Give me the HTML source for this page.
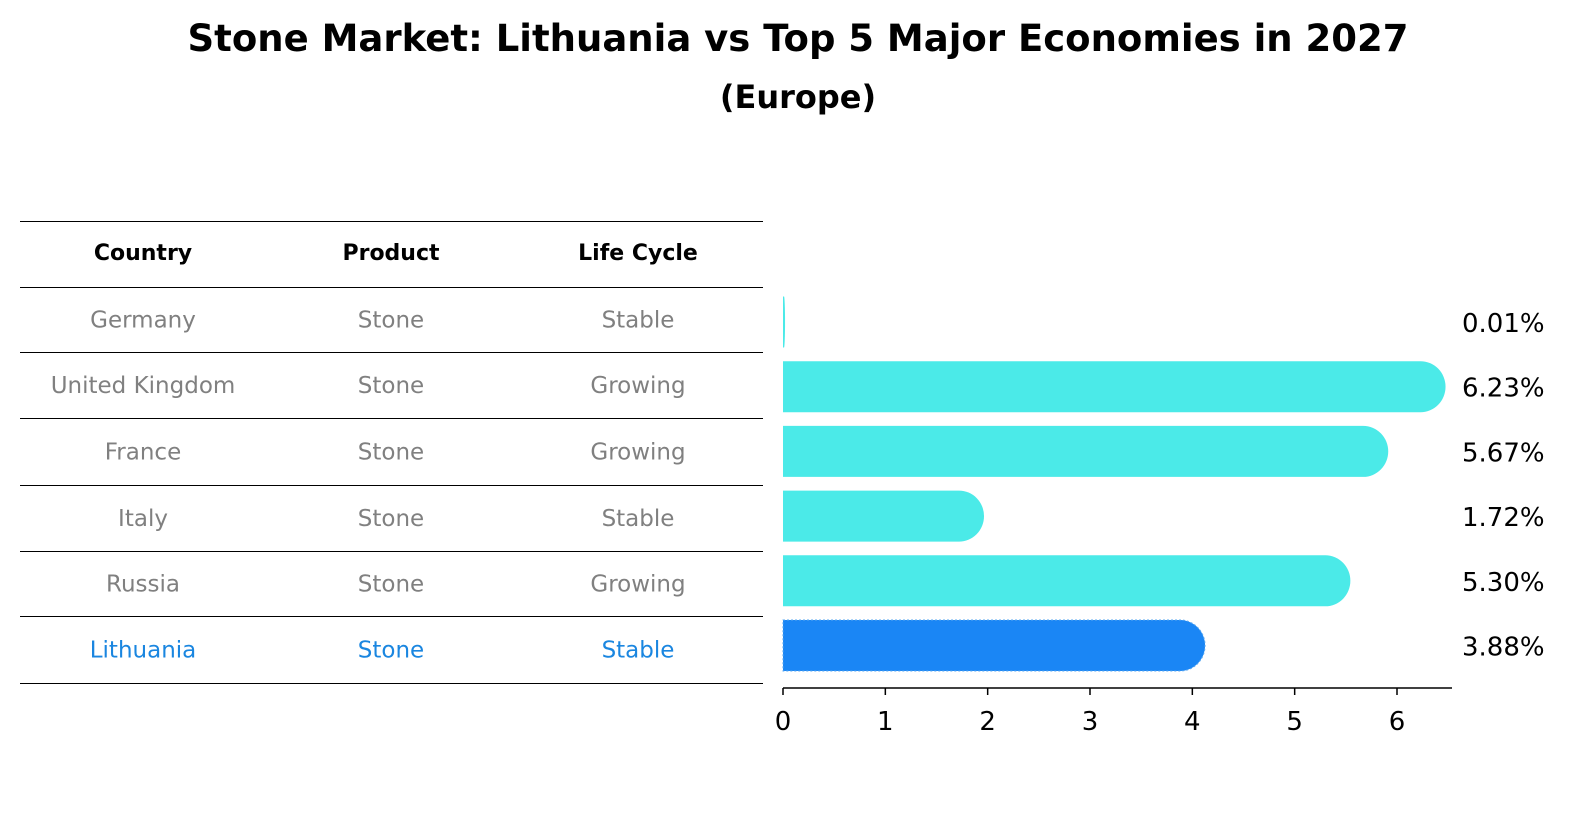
<!DOCTYPE html>
<html><head><meta charset="utf-8"><style>
html,body{margin:0;padding:0;background:#fff;overflow:hidden;width:1586px;height:823px;}
svg{display:block;}
svg text{font-family:"DejaVu Sans","Liberation Sans",sans-serif;}
</style></head><body>
<svg id="c" width="1586" height="823" viewBox="0 0 1586 823">
<text x="798" y="51" text-anchor="middle" font-size="37" font-weight="bold">Stone Market: Lithuania vs Top 5 Major Economies in 2027</text>
<text x="798" y="108" text-anchor="middle" font-size="32" font-weight="bold">(Europe)</text>
<g id="table"></g>
<g id="bars"></g>
</svg>
<script>
const countries=["Germany","United Kingdom","France","Italy","Russia","Lithuania"];
const products=["Stone","Stone","Stone","Stone","Stone","Stone"];
const lifeCycles=["Stable","Growing","Growing","Stable","Growing","Stable"];
const values=[0.01,6.23,5.67,1.72,5.30,3.88];
const valueLabels=["0.01%","6.23%","5.67%","1.72%","5.30%","3.88%"];
const ticks=[0,1,2,3,4,5,6];
const NS="http://www.w3.org/2000/svg";
function mk(t,a,p,txt){const e=document.createElementNS(NS,t);for(const k in a)e.setAttribute(k,a[k]);if(txt!==undefined)e.textContent=txt;p.appendChild(e);return e;}
const x0=783,ppu=(1397-783)/6;
const xs=v=>x0+v*ppu;
const rowY=i=>322+i*64.7;
const tb=document.getElementById('table');
const lines=[221,287,352,418,485,551,616,683];
lines.forEach(y=>{const l=mk('line',{x1:20,x2:763,y1:y+0.5,y2:y+0.5,stroke:'#000','stroke-width':1},tb);

});
const cols=[143,391,638];
["Country","Product","Life Cycle"].forEach((h,j)=>{const t=mk('text',{x:cols[j],y:260,'text-anchor':'middle','font-size':22,'font-weight':'bold'},tb,h);

});
countries.forEach((c,i)=>{const cy=(lines[i+1]+lines[i+2])/2+8;const col=i===5?'#1a86e0':'#808080';
[c,products[i],lifeCycles[i]].forEach((v,j)=>{const t=mk('text',{x:cols[j],y:cy,'text-anchor':'middle','font-size':23,fill:col},tb,v);

});});
const bg=document.getElementById('bars');
values.forEach((v,i)=>{const cy=rowY(i),h=51,top=cy-h/2;const w=xs(v)-x0;const r=Math.min(25,w);const xe=xs(v)+r;
const d=`M${x0},${top} H${xe-r} A${r},${h/2} 0 0 1 ${xe-r},${top+h} H${x0} Z`;
const last=i===5;
const p=mk('path',{d:d,fill:last?'#1a86f5':'#4beae8',stroke:last?'#5aa8f0':'none','stroke-dasharray':last?'2,2':'', 'stroke-width':1},bg);


const t=mk('text',{x:1462,y:cy+10,'font-size':26},bg,valueLabels[i]);

});
const ax=mk('line',{x1:x0,x2:1452,y1:688,y2:688,stroke:'#000','stroke-width':1.5},bg);


ticks.forEach(tv=>{const tk=mk('line',{x1:xs(tv),x2:xs(tv),y1:688,y2:695,stroke:'#000','stroke-width':1.5},bg);


const t=mk('text',{x:xs(tv),y:730,'text-anchor':'middle','font-size':26},bg,String(tv));

});
</script>
</body></html>
